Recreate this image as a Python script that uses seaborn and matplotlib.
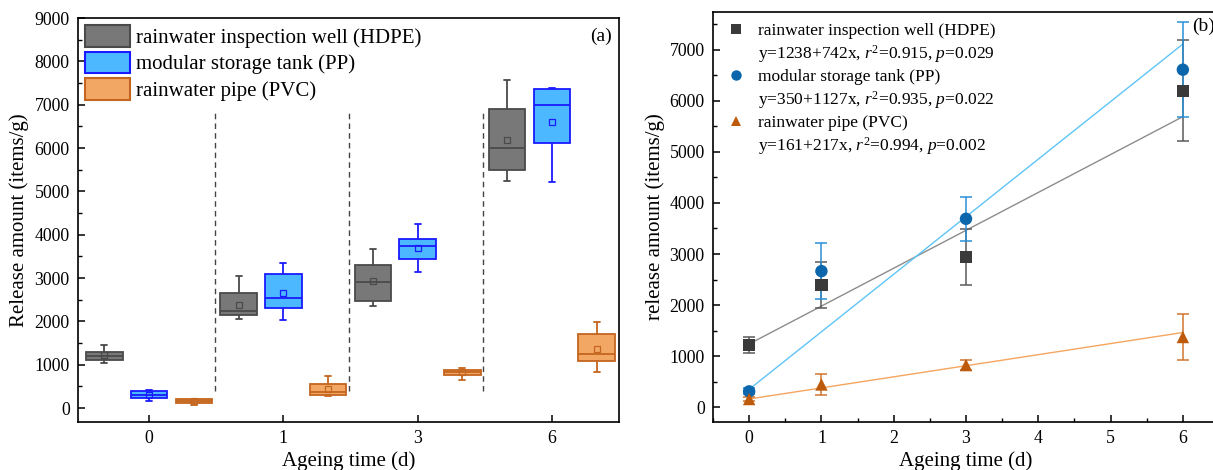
import numpy as np
import pandas as pd
import matplotlib
matplotlib.use("Agg")
import matplotlib.pyplot as plt
import seaborn as sns
from matplotlib.lines import Line2D
from matplotlib.patches import Patch
from matplotlib.ticker import MultipleLocator
from matplotlib.colors import to_rgb

# ---------------- data ----------------
times = ["0", "1", "3", "6"]
time_values = [0, 1, 3, 6]
materials = ["rainwater inspection well (HDPE)",
             "modular storage tank (PP)",
             "rainwater pipe (PVC)"]

# box summaries per ageing time: [whisker low, Q1, median, Q3, whisker high]
hdpe_box = [[1038, 1108, 1192, 1285, 1446],
            [2054, 2138, 2231, 2646, 3054],
            [2346, 2477, 2908, 3292, 3669],
            [5231, 5485, 6000, 6900, 7562]]
pp_box = [[162, 231, 308, 392, 408],
          [2023, 2315, 2531, 3100, 3338],
          [3150, 3435, 3731, 3900, 4254],
          [5223, 6115, 6985, 7354, 7377]]
pvc_box = [[69, 108, 154, 200, 215],
           [277, 308, 362, 554, 746],
           [646, 769, 823, 877, 923],
           [838, 1092, 1246, 1715, 1977]]

hdpe_mean = [1215, 2390, 2940, 6195]
pp_mean = [310, 2665, 3690, 6610]
pvc_mean = [160, 445, 825, 1375]

hdpe_sd = [160, 445, 545, 990]
pp_sd = [60, 545, 430, 925]
pvc_sd = [40, 205, 100, 455]

intercepts = [1238, 350, 161]
slopes = [742, 1127, 217]
r2_vals = ["0.915", "0.935", "0.994"]
p_vals = ["0.029", "0.022", "0.002"]

# ---------------- styles ----------------
box_face = ["#787878", "#4cb8ff", "#f2a764"]
box_edge = ["#4a4a4a", "#1a1aff", "#c4661f"]
mk_color = ["#3a3a3a", "#0b66ab", "#bd5a0b"]
err_color = ["#5a5a5a", "#2a8fd6", "#cf7530"]
fit_color = ["#8c8c8c", "#5ec4f6", "#f5a55f"]
mk_shape = ["s", "o", "^"]

boxes_all = [hdpe_box, pp_box, pvc_box]
means_all = [hdpe_mean, pp_mean, pvc_mean]
sds_all = [hdpe_sd, pp_sd, pvc_sd]

rows = []
for m, boxes in zip(materials, boxes_all):
    for t, vals in zip(times, boxes):
        for v in vals:
            rows.append({"time": t, "material": m, "value": v})
df_box = pd.DataFrame(rows)

df_mean = pd.DataFrame([{"time": t, "tv": tv, "material": m, "mean": mu, "sd": sd}
                        for m, mus, sds in zip(materials, means_all, sds_all)
                        for t, tv, mu, sd in zip(times, time_values, mus, sds)])

df_fit = pd.DataFrame([{"tv": x, "material": m, "fit": a + b * x}
                       for m, a, b in zip(materials, intercepts, slopes)
                       for x in (min(time_values), max(time_values))])

# ---------------- theme ----------------
sns.set_theme(style="ticks")
plt.rcParams.update({
    "font.family": ["Liberation Serif", "DejaVu Serif"],
    "mathtext.fontset": "custom",
    "mathtext.rm": "Liberation Serif",
    "mathtext.it": "Liberation Serif:italic",
    "axes.edgecolor": "black",
    "axes.linewidth": 1.2,
    "xtick.color": "black",
    "ytick.color": "black",
    "text.color": "black",
    "axes.labelcolor": "black",
})

W, H = 1213, 470
fig = plt.figure(figsize=(W / 100, H / 100), dpi=100)
axa = fig.add_axes([78 / W, 1 - 422 / H, 541 / W, 404 / H])
axb = fig.add_axes([713 / W, 1 - 421.5 / H, 506 / W, 409.5 / H])

# ---------------- panel (a) ----------------
sns.boxplot(data=df_box, x="time", y="value", hue="material", order=times,
            hue_order=materials, palette=box_face, saturation=1, width=1.0,
            gap=0.18, whis=(0, 100), fliersize=0, linewidth=1.3, legend=False,
            ax=axa)

face_rgb = [np.array(to_rgb(c)) for c in box_face]
cap_half = 0.022
for cont in axa.containers:
    try:
        bxs = cont.boxes
    except AttributeError:
        continue
    fc = np.array(bxs[0].get_facecolor()[:3])
    idx = int(np.argmin([np.sum((fc - f) ** 2) for f in face_rgb]))
    ec = box_edge[idx]
    for b in bxs:
        b.set_edgecolor(ec)
        b.set_linewidth(1.3)
    for ln in list(cont.whiskers) + list(cont.medians):
        ln.set_color(ec)
        ln.set_linewidth(1.3)
    for ln in cont.caps:
        ln.set_color(ec)
        ln.set_linewidth(1.3)
        xd = np.asarray(ln.get_xdata(), dtype=float)
        c = xd.mean()
        ln.set_xdata([c - cap_half, c + cap_half])

n0 = len(axa.lines)
sns.pointplot(data=df_mean, x="time", y="mean", hue="material", order=times,
              hue_order=materials, palette=box_edge, dodge=2 / 3,
              linestyle="none", markers="s", markersize=4.5, errorbar=None,
              legend=False, ax=axa)
for ln in axa.lines[n0:]:
    ln.set_markerfacecolor("none")
    ln.set_markeredgewidth(0.9)
    ln.set_zorder(5)

for i in range(len(times) - 1):
    axa.vlines(i + 0.49, 400, 6880, colors="#444444", linestyles=(0, (4, 3)),
               linewidth=1.0)

axa.set_xlim(-0.53, 3.5)
axa.set_ylim(-320, 9000)
axa.yaxis.set_major_locator(MultipleLocator(1000))
axa.yaxis.set_minor_locator(MultipleLocator(500))
axa.tick_params(which="major", direction="in", length=5, width=1.1,
                labelsize=12.8, pad=6)
axa.tick_params(which="minor", direction="in", length=3, width=1.0)
axa.tick_params(axis="x", which="minor", length=0)
axa.set_xlabel("Ageing time (d)", fontsize=15, labelpad=3)
axa.set_ylabel("Release amount (items/g)", fontsize=15, labelpad=4)
for s in axa.spines.values():
    s.set_visible(True)
    s.set_linewidth(1.2)

leg_a = [Patch(facecolor=f, edgecolor=e, linewidth=1.5)
         for f, e in zip(box_face, box_edge)]
axa.legend(leg_a, materials, loc="upper left", frameon=False, fontsize=15,
           handlelength=2.15, handleheight=1.2, handletextpad=0.3,
           labelspacing=0.18, borderaxespad=0.2, borderpad=0.15)
axa.text(0.987, 0.975, "(a)", transform=axa.transAxes, ha="right", va="top",
         fontsize=14)

# ---------------- panel (b) ----------------
sns.lineplot(data=df_fit, x="tv", y="fit", hue="material", hue_order=materials,
             palette=fit_color, linewidth=1.0, legend=False, ax=axb, zorder=2)

for m, ec in zip(materials, err_color):
    sub = df_mean[df_mean["material"] == m]
    axb.errorbar(sub["tv"], sub["mean"], yerr=sub["sd"], fmt="none", ecolor=ec,
                 elinewidth=1.1, capsize=4, capthick=1.1, zorder=3)

sns.scatterplot(data=df_mean, x="tv", y="mean", hue="material", style="material",
                hue_order=materials, style_order=materials, palette=mk_color,
                markers=dict(zip(materials, mk_shape)), s=80, linewidth=0,
                legend=False, ax=axb, zorder=4)

axb.set_xlim(-0.5, 6.5)
axb.set_ylim(-280, 7740)
axb.xaxis.set_major_locator(MultipleLocator(1))
axb.xaxis.set_minor_locator(MultipleLocator(0.5))
axb.yaxis.set_major_locator(MultipleLocator(1000))
axb.yaxis.set_minor_locator(MultipleLocator(500))
axb.tick_params(which="major", direction="in", length=5, width=1.1,
                labelsize=12.8, pad=6)
axb.tick_params(which="minor", direction="in", length=3, width=1.0)
axb.set_xlabel("Ageing time (d)", fontsize=15, labelpad=3)
axb.set_ylabel("release amount (items/g)", fontsize=15, labelpad=3)
for s in axb.spines.values():
    s.set_visible(True)
    s.set_linewidth(1.2)

leg_h, leg_l = [], []
for m, c, mk, a, b, r2, p in zip(materials, mk_color, mk_shape, intercepts,
                                 slopes, r2_vals, p_vals):
    leg_h.append(Line2D([], [], marker=mk, color=c, linestyle="none",
                        markersize=7.5, markeredgewidth=0))
    leg_l.append(m)
    leg_h.append(Line2D([], [], linestyle="none"))
    leg_l.append(f"y={a}+{b}x, $r^2$={r2}, $p$={p}")
axb.legend(leg_h, leg_l, loc="upper left", frameon=False, fontsize=12.5,
           handlelength=1.35, handletextpad=0.58, labelspacing=0.22,
           borderaxespad=0.15, borderpad=0.5)
axb.text(0.947, 0.985, "(b)", transform=axb.transAxes, ha="left", va="top",
         fontsize=14)

fig.savefig("out.png", dpi=100)
